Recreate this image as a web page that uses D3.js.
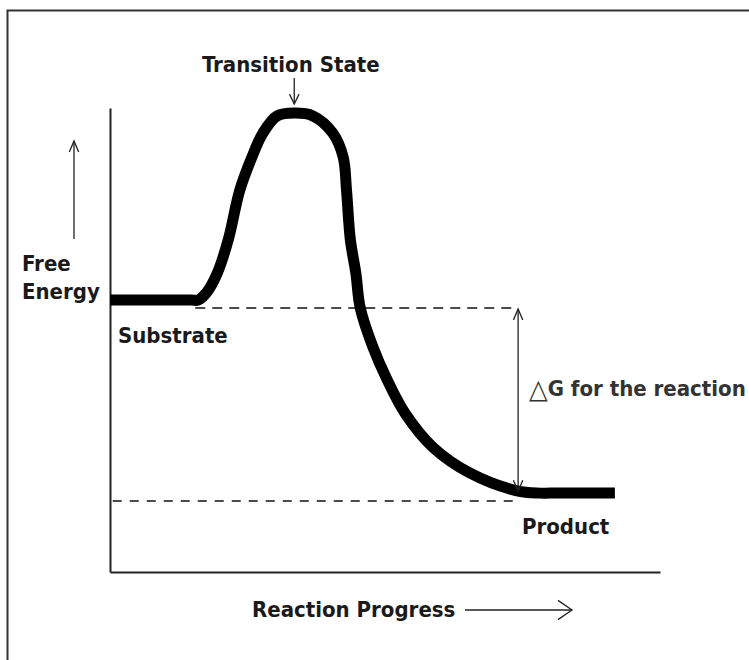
<!DOCTYPE html>
<html>
<head>
<meta charset="utf-8">
<script src="https://cdn.jsdelivr.net/npm/d3@7"></script>
<style>
  body { margin: 0; background: #fff; }
  text { font-family: "DejaVu Sans Condensed", "DejaVu Sans", sans-serif; font-weight: bold; fill: #1a1a1a; }
</style>
</head>
<body>
<div id="chart"></div>
<script>
// reaction coordinate (0-100) vs free energy (0-100)
const progress = [0, 14.8, 16, 17.6, 19.5, 21.5, 23.6, 25.8, 27.8, 30.4, 33.6, 36.9, 40.5, 42.4, 43.0, 43.7, 44.7, 45.5, 47.8, 50.4, 53.6, 58.7, 65.5, 74, 78.2, 80, 91.8]
const energy   = [58.6, 58.6, 58.6, 60.3, 64.4, 71.6, 82.3, 89.4, 94.6, 98.3, 98.9, 98.3, 94.6, 89.4, 82.3, 71.6, 64.4, 56.9, 48.5, 41.4, 34.3, 26.9, 21.3, 17.5, 17.0, 17.0, 17.0]

const substrateLevel = 56.9
const productLevel = 15.3
const substrateDashStart = 15.5
const levelDashEnd = 74.2
const transitionX = 33.5

const width = 749, height = 660

const svg = d3.select('#chart').append('svg')
    .attr('width', width)
    .attr('height', height)

const x = d3.scaleLinear().domain([0, 100]).range([110, 660])
const y = d3.scaleLinear().domain([0, 100]).range([572, 108])

// frame
svg.append('rect')
    .attr('x', 7.5).attr('y', 10.5)
    .attr('width', 760).attr('height', 680)
    .attr('fill', 'none')
    .attr('stroke', '#333')
    .attr('stroke-width', 2)

// axes (no ticks)
svg.append('g')
    .attr('transform', `translate(0,${y(0)})`)
    .call(d3.axisBottom(x).ticks(0).tickSizeOuter(0))
    .call(g => g.select('.domain').attr('stroke', '#222').attr('stroke-width', 2))

svg.append('g')
    .attr('transform', `translate(${x(0)},0)`)
    .call(d3.axisLeft(y).ticks(0).tickSizeOuter(0))
    .call(g => g.select('.domain').attr('stroke', '#222').attr('stroke-width', 2))

// dashed reference levels
svg.append('line')
    .attr('x1', x(substrateDashStart)).attr('x2', x(levelDashEnd))
    .attr('y1', y(substrateLevel)).attr('y2', y(substrateLevel))
    .attr('stroke', '#111').attr('stroke-width', 1.5)
    .attr('stroke-dasharray', '10,7')

svg.append('line')
    .attr('x1', x(0.5)).attr('x2', x(levelDashEnd))
    .attr('y1', y(productLevel)).attr('y2', y(productLevel))
    .attr('stroke', '#111').attr('stroke-width', 1.5)
    .attr('stroke-dasharray', '9,8')

// energy curve
const pts = progress.map((p, i) => [p, energy[i]])
const line = d3.line()
    .x(d => x(d[0]))
    .y(d => y(d[1]))
    .curve(d3.curveCatmullRom.alpha(0.5))

svg.append('path')
    .datum(pts)
    .attr('d', line)
    .attr('fill', 'none')
    .attr('stroke', '#000')
    .attr('stroke-width', 11)
    .attr('stroke-linejoin', 'round')

// arrow helper: line plus open V head
function arrow(x1, y1, x2, y2, head, spread, both) {
    const g = svg.append('g').attr('stroke', '#222').attr('stroke-width', 1.3).attr('fill', 'none')
    g.append('line').attr('x1', x1).attr('y1', y1).attr('x2', x2).attr('y2', y2)
    const vHead = (ax, ay, bx, by) => {
        const a = Math.atan2(by - ay, bx - ax)
        g.append('path').attr('d',
            `M${bx - head * Math.cos(a - spread)},${by - head * Math.sin(a - spread)}L${bx},${by}L${bx - head * Math.cos(a + spread)},${by - head * Math.sin(a + spread)}`)
    }
    vHead(x1, y1, x2, y2)
    if (both) vHead(x2, y2, x1, y1)
}

// delta G double arrow
arrow(x(levelDashEnd), y(substrateLevel) + 1, x(levelDashEnd), y(17.4), 12, 0.4, true)
// transition state pointer
arrow(x(transitionX), 78, x(transitionX), 104, 11, 0.45, false)
// free energy axis arrow
arrow(74, 239, 74, 141, 12, 0.4, false)
// reaction progress arrow
arrow(465, 610, 572, 610, 17, 0.6, false)

// labels
const labels = [
    { t: 'Transition State', x: 202, y: 72 },
    { t: 'Free', x: 22, y: 271 },
    { t: 'Energy', x: 22, y: 299 },
    { t: 'Substrate', x: 118, y: 343 },
    { t: 'Product', x: 522, y: 534 },
    { t: 'Reaction Progress', x: 252, y: 617 }
]
svg.selectAll('text.lbl')
    .data(labels)
    .join('text')
    .attr('class', 'lbl')
    .attr('x', d => d.x)
    .attr('y', d => d.y)
    .style('font-size', '22px')
    .text(d => d.t)

const dg = svg.append('text')
    .attr('x', 529).attr('y', 396)
    .style('font-size', '22px')
    .style('fill', '#333')
dg.append('tspan').style('font-weight', 'normal').style('font-size', '27px').attr('dy', 2).text('△')
dg.append('tspan').attr('dy', -2).text('G for the reaction')
</script>
</body>
</html>
